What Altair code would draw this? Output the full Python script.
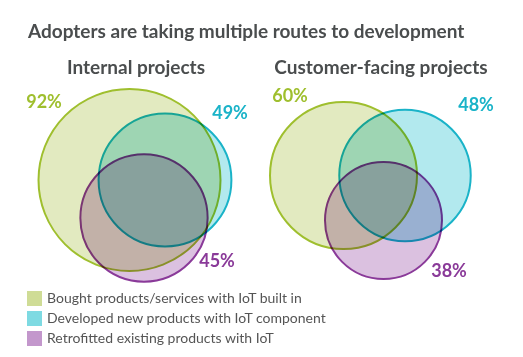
import altair as alt
import pandas as pd

# ---- data ----
TITLE = "Adopters are taking multiple routes to development"
PANELS = ["Internal projects", "Customer-facing projects"]
CATEGORIES = [
    "Bought products/services with IoT built in",
    "Developed new products with IoT component",
    "Retrofitted existing products with IoT",
]
INTERNAL_PCT = [92, 49, 45]
CUSTOMER_PCT = [60, 48, 38]

# ---- styles ----
FILL_COLORS = ["#cfdc96", "#7edae2", "#c397cc"]
STROKE_COLORS = ["#9fbf2e", "#1ab3c8", "#8a3a99"]
TEXT_DARK = "#4a4d4e"
FONT = "Lato"

# ---- layout (Venn centres / label anchors, in px of a 523x357 canvas) ----
W, H = 523, 357
CENTERS = {
    "Internal projects": [(129.5, 180), (165, 180), (144, 218)],
    "Customer-facing projects": [(343.5, 175.5), (405, 175.5), (383.5, 220.5)],
}
LABEL_POS = {
    "Internal projects": [(44, 103), (230, 114), (217, 262)],
    "Customer-facing projects": [(290, 97), (476, 106), (449, 272)],
}
PANEL_TITLE_POS = {"Internal projects": (136, 74), "Customer-facing projects": (381, 74)}
TITLE_POS = (28, 38)

rows = []
for panel, pcts in zip(PANELS, [INTERNAL_PCT, CUSTOMER_PCT]):
    for i, (cat, p) in enumerate(zip(CATEGORIES, pcts)):
        cx, cy = CENTERS[panel][i]
        lx, ly = LABEL_POS[panel][i]
        rows.append(dict(panel=panel, category=cat, pct=p, order=i,
                         cx=cx, cy=cy, lx=lx, ly=ly, label=f"{p}%"))
df = pd.DataFrame(rows)

titles = pd.DataFrame(
    [dict(text=TITLE, x=TITLE_POS[0], y=TITLE_POS[1], kind="main")]
    + [dict(text=p, x=PANEL_TITLE_POS[p][0], y=PANEL_TITLE_POS[p][1], kind="panel") for p in PANELS]
)

xs = alt.Scale(domain=[0, W], nice=False, zero=False)
ys = alt.Scale(domain=[0, H], nice=False, zero=False, reverse=True)

circles = alt.Chart(df).mark_point(
    filled=True, shape="circle", strokeWidth=2, fillOpacity=0.6,
    strokeOpacity=1, opacity=1, blend="multiply",
).encode(
    x=alt.X("cx:Q", scale=xs, axis=None),
    y=alt.Y("cy:Q", scale=ys, axis=None),
    size=alt.Size("pct:Q", scale=alt.Scale(domain=[0, 100], range=[0, 36000]), legend=None),
    fill=alt.Fill("category:N", scale=alt.Scale(domain=CATEGORIES, range=FILL_COLORS),
                  legend=alt.Legend(
                      title=None, orient="none", legendX=27, legendY=291,
                      symbolType="square", symbolSize=225, symbolOpacity=1,
                      symbolStrokeWidth=0, labelFont=FONT, labelFontSize=14,
                      labelColor="#555555", rowPadding=5, labelOffset=5,
                      padding=0, labelLimit=400,
                  )),
    stroke=alt.Stroke("category:N", scale=alt.Scale(domain=CATEGORIES, range=STROKE_COLORS),
                      legend=None),
    order=alt.Order("order:Q"),
)

labels = alt.Chart(df).mark_text(
    font=FONT, fontSize=18, fontWeight="bold", align="center", baseline="middle",
).encode(
    x=alt.X("lx:Q", scale=xs, axis=None),
    y=alt.Y("ly:Q", scale=ys, axis=None),
    text="label:N",
    color=alt.Color("category:N", scale=alt.Scale(domain=CATEGORIES, range=STROKE_COLORS),
                    legend=None),
)

main_title = alt.Chart(titles).transform_filter("datum.kind == 'main'").mark_text(
    font=FONT, fontSize=19, fontWeight="bold", align="left", baseline="alphabetic",
    color=TEXT_DARK,
).encode(x=alt.X("x:Q", scale=xs, axis=None), y=alt.Y("y:Q", scale=ys, axis=None), text="text:N")

panel_titles = alt.Chart(titles).transform_filter("datum.kind == 'panel'").mark_text(
    font=FONT, fontSize=19, fontWeight="bold", align="center", baseline="alphabetic",
    color=TEXT_DARK,
).encode(x=alt.X("x:Q", scale=xs, axis=None), y=alt.Y("y:Q", scale=ys, axis=None), text="text:N")

chart = alt.layer(circles, labels, main_title, panel_titles).properties(
    width=W, height=H, padding=0, autosize=alt.AutoSizeParams(type="none"),
    background="white",
).configure_view(stroke=None)

chart.save("out.html", embed_options={"renderer": "svg", "actions": False})
